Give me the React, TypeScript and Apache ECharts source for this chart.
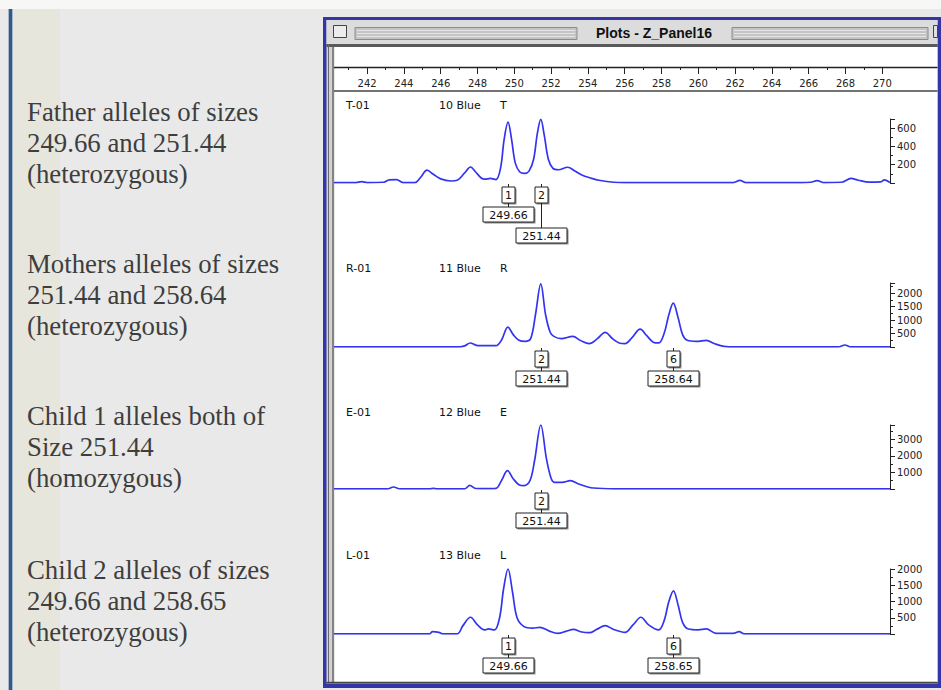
import React, { useEffect, useRef } from "react";
import * as echarts from "echarts";

// ---------- data ----------
const rulerMajor = [242, 244, 246, 248, 250, 252, 254, 256, 258, 260, 262, 264, 266, 268, 270];
const rulerMinor = [241, 243, 245, 247, 249, 251, 253, 255, 257, 259, 261, 263, 265, 267, 269];

const traceT: number[][] = [
  [240.2, 5], [241.4, 5], [241.7, 14], [242.0, 5], [242.9, 8], [243.2, 35], [243.6, 38], [243.95, 5],
  [244.6, 5], [244.9, 60], [245.26, 140], [245.6, 95], [246.0, 45], [246.55, 22], [246.9, 30],
  [247.3, 110], [247.62, 175], [247.9, 120], [248.2, 55], [248.4, 42], [248.7, 50], [249.0, 38],
  [249.25, 160], [249.45, 480], [249.66, 665], [249.85, 480], [250.05, 220], [250.3, 120], [250.55, 105],
  [250.8, 130], [251.05, 260], [251.25, 540], [251.44, 695], [251.63, 520], [251.85, 260], [252.1, 160],
  [252.4, 145], [252.9, 172], [253.3, 130], [253.7, 85], [254.1, 58], [254.6, 30], [255.4, 8], [256.0, 5],
  [258.5, 5], [261.9, 5], [262.26, 28], [262.6, 5], [265.6, 5], [266.1, 8], [266.46, 26], [266.8, 5],
  [267.8, 8], [268.3, 50], [268.7, 30], [269.3, 10], [269.9, 12], [270.12, 35], [270.42, 5],
];

const traceR: number[][] = [
  [240.2, 5], [247.0, 5], [247.3, 40], [247.6, 148], [247.9, 70], [248.1, 50], [249.0, 50], [249.3, 250],
  [249.65, 740], [249.95, 450], [250.25, 250], [250.6, 210], [250.9, 330], [251.15, 1200], [251.44, 2350],
  [251.7, 1200], [251.95, 550], [252.15, 395], [252.55, 310], [253.18, 395], [253.6, 240], [254.08, 125],
  [254.5, 300], [254.94, 545], [255.35, 300], [255.7, 150], [256.02, 125], [256.4, 350], [256.84, 665],
  [257.2, 420], [257.55, 180], [257.85, 150], [258.15, 520], [258.4, 1200], [258.64, 1630], [258.9, 1100],
  [259.15, 450], [259.4, 250], [259.9, 210], [260.43, 250], [260.9, 120], [261.4, 25], [262.0, 5],
  [267.6, 5], [267.97, 75], [268.3, 5], [270.42, 5],
];

const traceE: number[][] = [
  [240.2, 5], [243.1, 5], [243.43, 120], [243.8, 5], [245.4, 5], [245.6, 40], [245.8, 5], [247.3, 5],
  [247.58, 220], [247.9, 30], [248.5, 20], [249.0, 40], [249.3, 500], [249.63, 1100], [249.95, 600],
  [250.25, 260], [250.53, 200], [250.85, 500], [251.1, 1700], [251.44, 3850], [251.75, 1800], [252.0, 650],
  [252.2, 400], [252.6, 400], [253.05, 500], [253.5, 300], [254.0, 120], [254.3, 60], [255.4, 10],
  [256.0, 5], [270.42, 5],
];

const traceL: number[][] = [
  [240.2, 5], [245.4, 5], [245.55, 72], [245.9, 50], [246.1, 5], [246.9, 5], [247.2, 250], [247.62, 515],
  [248.0, 280], [248.38, 124], [248.6, 155], [248.92, 124], [249.2, 500], [249.42, 1400], [249.66, 2000],
  [249.9, 1300], [250.15, 500], [250.53, 227], [251.0, 180], [251.39, 206], [251.9, 90], [252.36, 20],
  [252.8, 80], [253.22, 144], [253.6, 70], [254.08, 40], [254.5, 150], [254.94, 258], [255.4, 140],
  [256.02, 50], [256.45, 280], [256.88, 515], [257.3, 280], [257.85, 124], [258.15, 420], [258.4, 1000],
  [258.65, 1330], [258.9, 900], [259.15, 350], [259.46, 155], [260.0, 130], [260.43, 155], [260.97, 20],
  [261.9, 20], [262.22, 72], [262.5, 5], [270.42, 5],
];

const panelNames = ["T-01", "R-01", "E-01", "L-01"];
const panelDyes = ["10 Blue", "11 Blue", "12 Blue", "13 Blue"];
const panelLetters = ["T", "R", "E", "L"];
const panelMax = [700, 2380, 3850, 2000];
const panelInterval = [200, 500, 1000, 500];

const markerSizes = [[249.66, 251.44], [251.44, 258.64], [251.44], [249.66, 258.65]];
const markerNums = [["1", "2"], ["2", "6"], ["2"], ["1", "6"]];
const markerLabels = [["249.66", "251.44"], ["251.44", "258.64"], ["251.44"], ["249.66", "258.65"]];
const markerLevels = [[0, 1], [0, 0], [0], [0, 0]];

const leftTexts = [
  ["Father alleles of sizes", "249.66 and 251.44", "(heterozygous)"],
  ["Mothers alleles of sizes", "251.44 and 258.64", "(heterozygous)"],
  ["Child 1 alleles both of", "Size 251.44", "(homozygous)"],
  ["Child 2 alleles of sizes", "249.66 and 258.65", "(heterozygous)"],
];

const titleText = "Plots - Z_Panel16";

const traces = [traceT, traceR, traceE, traceL];

// ---------- layout ----------
const X_MIN = 240.2;
const X_MAX = 270.42;
const GRID_LEFT = 334;
const GRID_RIGHT = 51;
const panelTop = [119, 283, 425, 569];
const panelHeight = [64, 64, 64, 65];
const panelLabelY = [105, 268, 412, 555];
const leftBlockY = [112, 264, 416, 570];

const SANS = '"DejaVu Sans", sans-serif';

export default function App() {
  const ref = useRef<HTMLDivElement>(null);

  useEffect(() => {
    if (!ref.current) return;
    const chart = echarts.init(ref.current, undefined, { renderer: "svg" });

    const grids: any[] = [{ left: GRID_LEFT, right: GRID_RIGHT, top: 50, height: 17 }];
    const xAxes: any[] = [
      {
        type: "value", gridIndex: 0, min: X_MIN, max: X_MAX, position: "bottom",
        axisLine: { show: false }, splitLine: { show: false },
        axisTick: { show: true, customValues: rulerMajor, length: 7, lineStyle: { color: "#222", width: 1 } },
        axisLabel: { show: true, customValues: rulerMajor, margin: 11, fontSize: 10, fontFamily: SANS, color: "#222" },
      },
      {
        type: "value", gridIndex: 0, min: X_MIN, max: X_MAX, position: "bottom", offset: 0,
        axisLine: { show: false }, splitLine: { show: false },
        axisTick: { show: true, customValues: rulerMinor, length: 3, lineStyle: { color: "#222", width: 1 } },
        axisLabel: { show: false },
      },
    ];
    const yAxes: any[] = [{ type: "value", gridIndex: 0, show: false }];
    const series: any[] = [];

    traces.forEach((tr, i) => {
      const g = i + 1;
      grids.push({ left: GRID_LEFT, right: GRID_RIGHT, top: panelTop[i], height: panelHeight[i] });
      xAxes.push({ type: "value", gridIndex: g, min: X_MIN, max: X_MAX, show: false });
      yAxes.push({
        type: "value", gridIndex: g, min: 0, max: panelMax[i], interval: panelInterval[i], position: "right",
        axisLine: { show: true, lineStyle: { color: "#222", width: 1 } },
        axisTick: { show: true, length: 5, lineStyle: { color: "#222" } },
        minorTick: { show: true, splitNumber: 2, length: 3, lineStyle: { color: "#222" } },
        splitLine: { show: false },
        axisLabel: {
          show: true, margin: 7, fontSize: 10, fontFamily: SANS, color: "#222",
          showMinLabel: false, showMaxLabel: i === 3,
          formatter: (v: number) => String(v),
        },
      });
      series.push({
        type: "line", xAxisIndex: g + 1, yAxisIndex: g, data: tr, showSymbol: false, symbol: "none",
        smooth: 0.35, lineStyle: { color: "#3434f0", width: 1.7 }, z: 3,
      });
      const sizes = markerSizes[i];
      series.push({
        type: "custom", xAxisIndex: g + 1, yAxisIndex: g, clip: false, z: 5,
        data: sizes.map((s, k) => [s, markerLevels[i][k]]),
        renderItem: (params: any, api: any) => {
          const k = params.dataIndex;
          const p = api.coord([api.value(0), 0]);
          const x = Math.round(p[0]) + 0.5;
          const by = Math.round(p[1]);
          const lvl = markerLevels[i][k];
          const lblTop = by + 24 + lvl * 21;
          return {
            type: "group",
            children: [
              { type: "line", shape: { x1: x, y1: by + 1, x2: x, y2: by + 4 }, style: { stroke: "#222", lineWidth: 1 } },
              { type: "rect", shape: { x: x - 6.5 + 1.5, y: by + 4 + 1.5, width: 13, height: 16 }, style: { fill: "#8a8a8a" } },
              { type: "rect", shape: { x: x - 6.5, y: by + 4, width: 13, height: 16 }, style: { fill: "#fff", stroke: "#222", lineWidth: 1 } },
              { type: "text", style: { text: markerNums[i][k], x: x, y: by + 12.5, align: "center", verticalAlign: "middle", font: "11px " + SANS, fill: "#111" } },
              { type: "line", shape: { x1: x, y1: by + 20, x2: x, y2: lblTop }, style: { stroke: "#222", lineWidth: 1 } },
              { type: "rect", shape: { x: x - 25.5 + 1.5, y: lblTop + 1.5, width: 51, height: 15 }, style: { fill: "#8a8a8a" } },
              { type: "rect", shape: { x: x - 25.5, y: lblTop, width: 51, height: 15 }, style: { fill: "#fff", stroke: "#222", lineWidth: 1 } },
              { type: "text", style: { text: markerLabels[i][k], x: x, y: lblTop + 8, align: "center", verticalAlign: "middle", font: "11px " + SANS, fill: "#111" } },
            ],
          };
        },
      });
    });

    const els: any[] = [];
    // page background
    els.push({ type: "rect", z: -10, shape: { x: 0, y: 0, width: 941, height: 690 }, style: { fill: "#e9e9e9" } });
    els.push({ type: "rect", z: -10, shape: { x: 0, y: 0, width: 941, height: 9 }, style: { fill: "#f7f7f5" } });
    els.push({ type: "rect", z: -10, shape: { x: 13, y: 9, width: 47, height: 681 }, style: { fill: "#e6e6dd" } });
    els.push({ type: "rect", z: -10, shape: { x: 8, y: 9, width: 5, height: 681 }, style: { fill: "#a9b8c9" } });
    els.push({ type: "rect", z: -10, shape: { x: 9, y: 9, width: 3, height: 681 }, style: { fill: "#2d5b8c" } });
    // window
    els.push({ type: "rect", z: -10, shape: { x: 323, y: 17, width: 618, height: 671 }, style: { fill: "#3535a8" } });
    els.push({ type: "rect", z: -10, shape: { x: 326.5, y: 20, width: 611, height: 663.5 }, style: { fill: "#d2d2d2" } });
    els.push({ type: "rect", z: -10, shape: { x: 326.5, y: 20, width: 611, height: 24 }, style: { fill: "#dcdcdc" } });
    // close box
    els.push({ type: "rect", z: -9, shape: { x: 333.5, y: 25.5, width: 13, height: 12 }, style: { fill: "#ececec", stroke: "#444", lineWidth: 1 } });
    // stripes
    [[355, 222], [732, 196]].forEach(([sx, sw]) => {
      els.push({ type: "rect", z: -9, shape: { x: sx, y: 27.5, width: sw, height: 12 }, style: { fill: "#c4c4c4", stroke: "#8c8c8c", lineWidth: 1 } });
      [30.5, 33.5, 36.5].forEach((ly) => {
        els.push({ type: "line", z: -9, shape: { x1: sx + 2, y1: ly, x2: sx + sw - 2, y2: ly }, style: { stroke: "#e6e6e6", lineWidth: 1 } });
      });
    });
    els.push({ type: "rect", z: -9, shape: { x: 933.5, y: 25.5, width: 4, height: 12 }, style: { fill: "#e0e0e0", stroke: "#444", lineWidth: 1 } });
    els.push({ type: "text", z: -8, x: 654, y: 33, style: { text: titleText, font: 'bold 14px "Liberation Sans", sans-serif', fill: "#111", align: "center", verticalAlign: "middle" } });
    // under-title line
    els.push({ type: "rect", z: -9, shape: { x: 326.5, y: 44, width: 611, height: 3 }, style: { fill: "#5a5a5a" } });
    // content area
    els.push({ type: "rect", z: -9, shape: { x: 334.5, y: 47, width: 603, height: 635 }, style: { fill: "#ffffff" } });
    els.push({ type: "line", z: -8, shape: { x1: 328.5, y1: 44, x2: 328.5, y2: 683 }, style: { stroke: "#6a6a6a", lineWidth: 1 } });
    els.push({ type: "line", z: -8, shape: { x1: 333, y1: 47, x2: 333, y2: 683 }, style: { stroke: "#6a6a6a", lineWidth: 1.5 } });
    els.push({ type: "line", z: -8, shape: { x1: 326.5, y1: 682.5, x2: 937.5, y2: 682.5 }, style: { stroke: "#444", lineWidth: 1.5 } });
    // ruler lines
    els.push({ type: "line", z: -8, shape: { x1: 334, y1: 67.5, x2: 937.5, y2: 67.5 }, style: { stroke: "#222", lineWidth: 1.5 } });
    els.push({ type: "line", z: -8, shape: { x1: 334, y1: 91, x2: 937.5, y2: 91 }, style: { stroke: "#444", lineWidth: 1.5 } });
    // panel labels
    for (let i = 0; i < 4; i++) {
      const font = "11px " + SANS;
      els.push({ type: "text", z: 10, x: 346, y: panelLabelY[i], style: { text: panelNames[i], font, fill: "#111", verticalAlign: "middle" } });
      els.push({ type: "text", z: 10, x: 439, y: panelLabelY[i], style: { text: panelDyes[i], font, fill: "#111", verticalAlign: "middle" } });
      els.push({ type: "text", z: 10, x: 500, y: panelLabelY[i], style: { text: panelLetters[i], font, fill: "#111", verticalAlign: "middle" } });
    }
    // left descriptive text
    leftTexts.forEach((lines, b) => {
      lines.forEach((t, j) => {
        els.push({
          type: "text", z: 10, x: 27, y: leftBlockY[b] + j * 31,
          style: { text: t, font: '26.8px "Liberation Serif", serif', fill: "#3e3e3e", verticalAlign: "middle" },
        });
      });
    });

    chart.setOption({
      animation: false,
      backgroundColor: "transparent",
      graphic: { elements: els },
      grid: grids,
      xAxis: xAxes,
      yAxis: yAxes,
      series,
    });

    return () => chart.dispose();
  }, []);

  return <div ref={ref} style={{ position: "absolute", left: 0, top: 0, width: 941, height: 690 }} />;
}
